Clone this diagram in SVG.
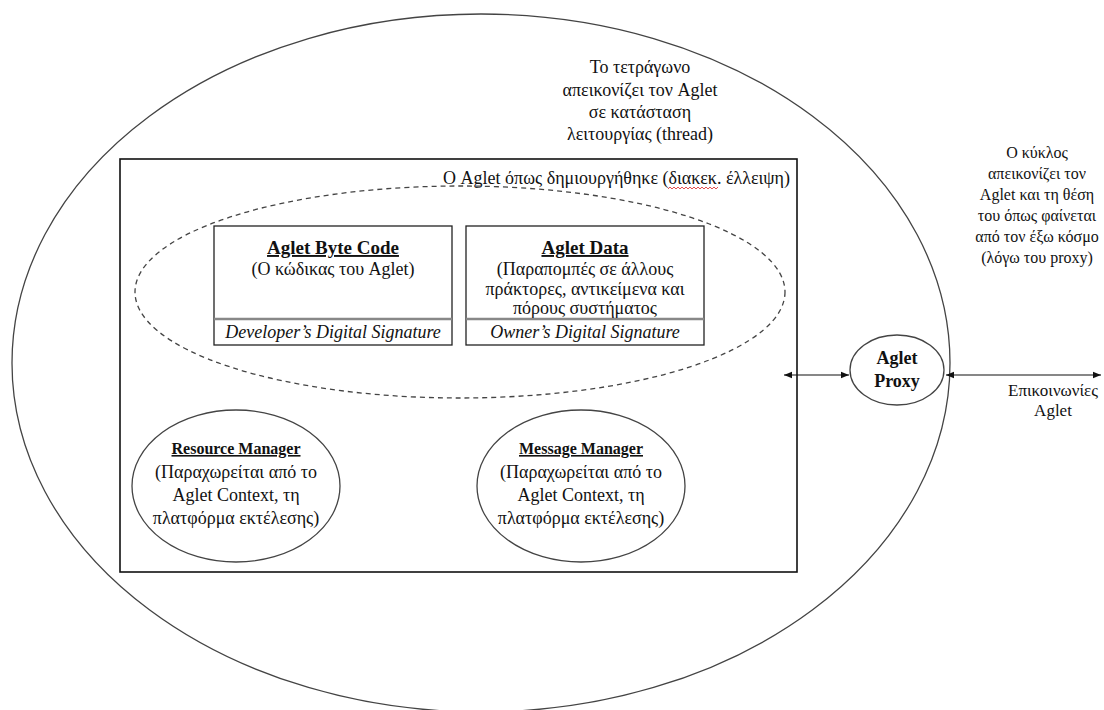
<svg xmlns="http://www.w3.org/2000/svg" width="1104" height="710" viewBox="0 0 1104 710">
  <style>
    text { font-family: "Liberation Serif", "Times New Roman", serif; fill: #111; }
    .t16 { font-size: 16px; }
    .t17 { font-size: 17px; }
    .t18 { font-size: 18px; }
    .t19 { font-size: 19px; }
    .title { font-size: 19px; font-weight: bold; text-decoration: underline; }
    .mgr { font-size: 16px; font-weight: bold; text-decoration: underline; }
    .bold { font-size: 18px; font-weight: bold; }
    .sig { font-size: 18px; font-style: italic; }
    .outline { fill: none; stroke: #444; stroke-width: 1.3; }
    .box { fill: #fff; stroke: #222; stroke-width: 1.3; }
    .conn { stroke: #111; stroke-width: 1.2; fill: none; }
  </style>
  <defs>
    <marker id="head" viewBox="0 0 10 10" refX="10" refY="5" markerWidth="8" markerHeight="8" orient="auto-start-reverse" markerUnits="userSpaceOnUse">
      <path d="M0,1 L10,5 L0,9 Z" fill="#111"/>
    </marker>
  </defs>
  <rect width="1104" height="710" fill="#fff"/>

  <!-- outer circle: the Aglet as seen from outside -->
  <g id="outer-circle">
    <ellipse cx="481" cy="363" rx="469" ry="349" class="outline"/>
  </g>

  <!-- notes -->
  <g id="note-square" text-anchor="middle">
    <text x="640" y="73" class="t18">Το τετράγωνο</text>
    <text x="640" y="96" class="t18">απεικονίζει τον Aglet</text>
    <text x="640" y="118" class="t18">σε κατάσταση</text>
    <text x="640" y="140" class="t18">λειτουργίας (thread)</text>
  </g>
  <g id="note-circle" text-anchor="middle">
    <text x="1037" y="158" class="t16">Ο κύκλος</text>
    <text x="1037" y="179" class="t16">απεικονίζει τον</text>
    <text x="1037" y="200" class="t16">Aglet και τη θέση</text>
    <text x="1037" y="221" class="t16">του όπως φαίνεται</text>
    <text x="1037" y="242" class="t16">από τον έξω κόσμο</text>
    <text x="1037" y="263" class="t16">(λόγω του proxy)</text>
  </g>

  <!-- running aglet (thread) -->
  <g id="aglet-thread">
    <rect x="120" y="159" width="677" height="413" fill="none" stroke="#111" stroke-width="1.6"/>
    <text x="790" y="184" text-anchor="end" class="t18">Ο Aglet όπως δημιουργήθηκε (διακεκ. έλλειψη)</text>
    <!-- spell-check squiggle under the abbreviation -->
    <path d="M668,189 l2,-2 l2,2 l2,-2 l2,2 l2,-2 l2,2 l2,-2 l2,2 l2,-2 l2,2 l2,-2 l2,2 l2,-2 l2,2 l2,-2 l2,2 l2,-2 l2,2 l2,-2 l2,2 l2,-2 l2,2 l2,-2 l2,2 l2,-2" fill="none" stroke="#d22" stroke-width="0.8"/>
  </g>

  <!-- aglet as created -->
  <g id="aglet-created">
    <ellipse cx="460" cy="292" rx="325" ry="106" fill="none" stroke="#444" stroke-width="1.3" stroke-dasharray="5 4"/>
  </g>

  <g id="byte-code">
    <rect x="214" y="226" width="238" height="119" class="box"/>
    <line x1="214" y1="319" x2="452" y2="319" stroke="#888" stroke-width="2.5"/>
    <text x="333" y="254" text-anchor="middle" class="title">Aglet Byte Code</text>
    <text x="333" y="275" text-anchor="middle" class="t18">(Ο κώδικας του Aglet)</text>
    <text x="333" y="338" text-anchor="middle" class="sig">Developer’s Digital Signature</text>
  </g>

  <g id="aglet-data">
    <rect x="466" y="226" width="238" height="119" class="box"/>
    <line x1="466" y1="319" x2="704" y2="319" stroke="#888" stroke-width="2.5"/>
    <text x="585" y="254" text-anchor="middle" class="title">Aglet Data</text>
    <text x="585" y="275" text-anchor="middle" class="t18">(Παραπομπές σε άλλους</text>
    <text x="585" y="295" text-anchor="middle" class="t18">πράκτορες, αντικείμενα και</text>
    <text x="585" y="314" text-anchor="middle" class="t18">πόρους συστήματος</text>
    <text x="585" y="338" text-anchor="middle" class="sig">Owner’s Digital Signature</text>
  </g>

  <g id="resource-manager">
    <ellipse cx="236" cy="486" rx="104" ry="76" class="outline"/>
    <text x="236" y="454" text-anchor="middle" class="mgr">Resource Manager</text>
    <text x="236" y="478" text-anchor="middle" class="t18">(Παραχωρείται από το</text>
    <text x="236" y="501" text-anchor="middle" class="t18">Aglet Context, τη</text>
    <text x="236" y="524" text-anchor="middle" class="t18">πλατφόρμα εκτέλεσης)</text>
  </g>

  <g id="message-manager">
    <ellipse cx="581" cy="486" rx="104" ry="76" class="outline"/>
    <text x="581" y="454" text-anchor="middle" class="mgr">Message Manager</text>
    <text x="581" y="478" text-anchor="middle" class="t18">(Παραχωρείται από το</text>
    <text x="581" y="501" text-anchor="middle" class="t18">Aglet Context, τη</text>
    <text x="581" y="524" text-anchor="middle" class="t18">πλατφόρμα εκτέλεσης)</text>
  </g>

  <g id="aglet-proxy">
    <ellipse cx="897" cy="370" rx="47" ry="35" class="outline"/>
    <text x="897" y="364" text-anchor="middle" class="bold">Aglet</text>
    <text x="897" y="387" text-anchor="middle" class="bold">Proxy</text>
  </g>

  <g id="comm-label" text-anchor="middle">
    <text x="1053" y="396" class="t17">Επικοινωνίες</text>
    <text x="1053" y="416" class="t17">Aglet</text>
  </g>

  <!-- connectors -->
  <g id="connectors">
    <line x1="784" y1="375" x2="849" y2="375" class="conn" marker-start="url(#head)" marker-end="url(#head)"/>
    <line x1="946" y1="375" x2="1101" y2="375" class="conn" marker-start="url(#head)" marker-end="url(#head)"/>
  </g>
</svg>
